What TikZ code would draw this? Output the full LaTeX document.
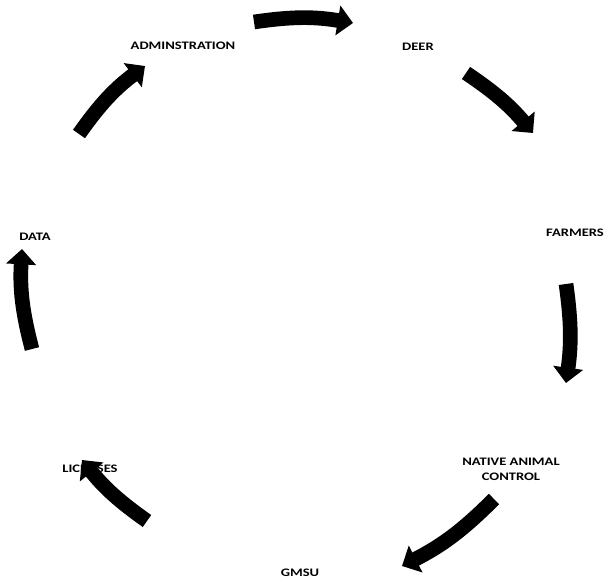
\documentclass[tikz,border=0pt]{standalone}
\usepackage{fontspec}
\setmainfont{Carlito}[FakeStretch=1.27]
\usetikzlibrary{arrows.meta}
\begin{document}
\begin{tikzpicture}[x=0.75pt,y=-0.75pt,
  lbl/.style={font=\bfseries\fontsize{8.6}{11}\selectfont,align=center,inner sep=1pt},
  cyc/.style={line width=11pt,-{Triangle[length=11.5pt,width=22pt]}}]
\useasboundingbox (0,0) rectangle (604,583);

\node[lbl] (admin) at (183,46) {ADMINSTRATION};
\node[lbl] (deer) at (418,47) {DEER};
\node[lbl] (farm) at (575,233) {FARMERS};
\node[lbl] (nac) at (511,469) {NATIVE ANIMAL\\CONTROL};
\node[lbl] (gmsu) at (300,573) {GMSU};
\node[lbl] (lic) at (90,469) {LICENSES};
\node[lbl] (data) at (35,237) {DATA};

% ends of the arrows round the circle
\coordinate (a1) at (254,22);  \coordinate (b1) at (353,23);
\coordinate (a2) at (466,73);  \coordinate (b2) at (533,133);
\coordinate (a3) at (566,284); \coordinate (b3) at (566,383);
\coordinate (a4) at (494,499); \coordinate (b4) at (402,566);
\coordinate (a5) at (147,521); \coordinate (b5) at (82,460);
\coordinate (a6) at (32,349);  \coordinate (b6) at (22,249);
\coordinate (a7) at (79,134);  \coordinate (b7) at (145,66);

\draw[cyc] (a1) to[bend left=9] (b1);
\draw[cyc] (a2) to[bend left=8] (b2);
\draw[cyc] (a3) to[bend left=8] (b3);
\draw[cyc] (a4) to[bend left=9] (b4);
\draw[cyc] (a5) to[bend left=8] (b5);
\draw[cyc] (a6) to[bend left=9] (b6);
\draw[cyc] (a7) to[bend left=9] (b7);
\end{tikzpicture}
\end{document}
